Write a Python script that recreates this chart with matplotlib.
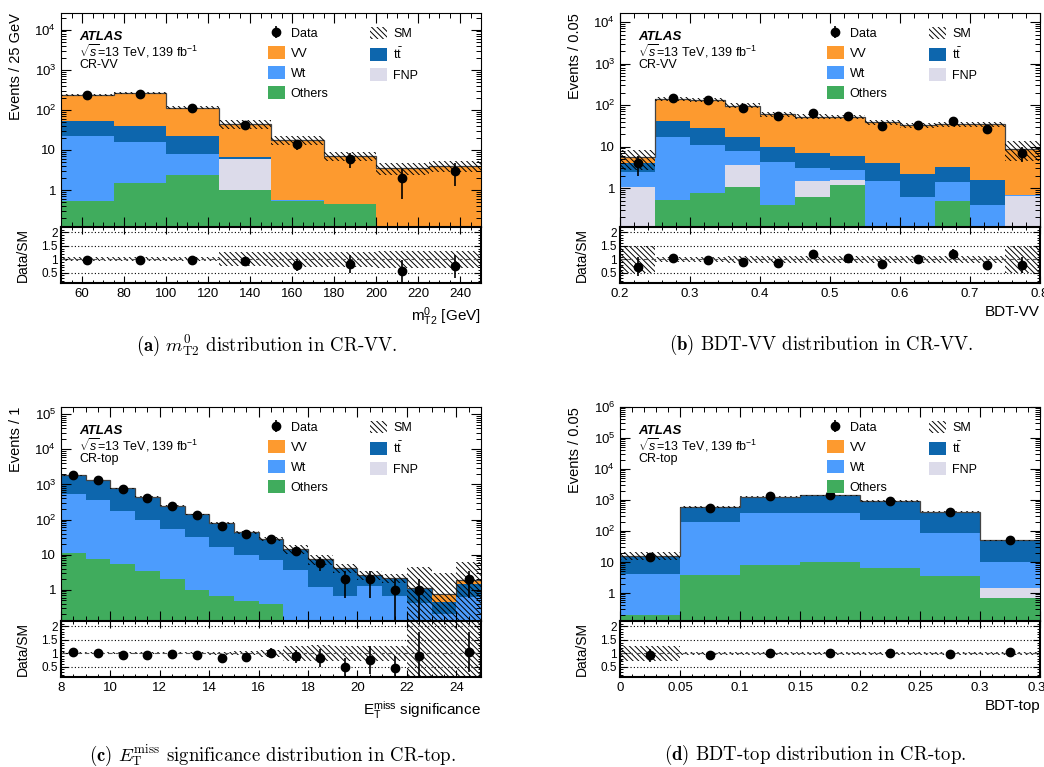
import numpy as np
import matplotlib.pyplot as plt
from matplotlib.ticker import MultipleLocator, FixedLocator, FuncFormatter, LogLocator, NullFormatter
from matplotlib.patches import Patch

plt.rcParams['font.family'] = ['Liberation Sans', 'DejaVu Sans']
plt.rcParams['mathtext.fontset'] = 'custom'
plt.rcParams['mathtext.rm'] = 'Liberation Sans'
plt.rcParams['mathtext.it'] = 'Liberation Sans:italic'
plt.rcParams['mathtext.bf'] = 'Liberation Sans:bold'
plt.rcParams['hatch.linewidth'] = 0.7

C_VV = '#fd9a2f'
C_TT = '#0d66ad'
C_WT = '#4c9cfd'
C_FNP = '#dcdbea'
C_OTH = '#40ac5d'
HATCH = '\\\\\\\\\\\\'

# ---- (a) mT2 in CR-VV ----
a_edges = [50, 75, 100, 125, 150, 175, 200, 225, 250]
a_others = [0.54, 1.5, 2.4, 1.0, 0.54, 0.45, 0, 0]
a_fnp = [0, 0, 0, 4.8, 0, 0, 0, 0]
a_wt = [21.5, 14, 5.5, 0.3, 0.02, 0, 0, 0]
a_tt = [32, 24, 14.5, 0.7, 0, 0, 0, 0]
a_vv = [183, 221, 92, 38.2, 17.2, 6.75, 3.5, 4.06]
a_data = [235, 250, 110, 43, 14, 6, 2, 3]
a_unc = [0.07, 0.07, 0.08, 0.26, 0.27, 0.27, 0.32, 0.32]

# ---- (b) BDT-VV in CR-VV ----
b_edges = [0.2, 0.25, 0.3, 0.35, 0.4, 0.45, 0.5, 0.55, 0.6, 0.65, 0.7, 0.75, 0.8]
b_others = [0, 0.52, 0.74, 1.06, 0.38, 0.6, 1.18, 0, 0, 0.5, 0, 0]
b_fnp = [1.05, 0, 0, 2.55, 0, 0.9, 0.4, 0, 0, 0, 0, 0.65]
b_wt = [1.35, 16.9, 10.1, 4.0, 3.8, 1.5, 1.07, 1.5, 0.62, 0.92, 0.4, 0.02]
b_tt = [1.5, 24.6, 17.2, 9.8, 5.8, 3.8, 3.35, 2.5, 1.55, 1.73, 1.18, 0]
b_vv = [1.6, 99, 107, 79.6, 50.5, 46, 46, 34, 30.8, 30.8, 32.4, 8.2]
b_data = [4, 150, 132, 87, 53, 63, 55, 31, 33, 41, 27, 7]
b_unc = [0.5, 0.1, 0.1, 0.13, 0.13, 0.13, 0.13, 0.13, 0.13, 0.13, 0.13, 0.5]

# ---- (c) MET significance in CR-top ----
c_edges = [8, 9, 10, 11, 12, 13, 14, 15, 16, 17, 18, 19, 20, 21, 22, 23, 24, 25]
c_others = [11, 7.5, 5.4, 3.4, 2.0, 1.0, 0.69, 0.49, 0.39, 0, 0, 0, 0, 0, 0, 0, 0]
c_fnp = [0] * 17
c_wt = [514, 347, 176, 91, 53, 30, 16.3, 9.3, 6.6, 3.6, 1.17, 0.66, 1.33, 0.66, 0.41, 0.2, 0.62]
c_tt = [1256, 968, 595, 352, 186, 106.5, 61.2, 32.7, 20.3, 10.6, 5.93, 3.44, 1.27, 1.39, 0.63, 0.24, 0.83]
c_vv = [20, 15, 9, 6, 4, 2.5, 1.5, 1, 0.6, 0.4, 0.3, 0.1, 0.1, 0.15, 0.08, 0.33, 0.45]
c_data = [1860, 1330, 750, 422, 243, 133, 66, 38, 28, 13, 6, 2, 2, 1, 1, 0, 2]
c_unc = [0.03, 0.03, 0.03, 0.03, 0.03, 0.03, 0.05, 0.08, 0.12, 0.28, 0.3, 0.28, 0.28, 0.28, 3.0, 3.0, 2.3]

# ---- (d) BDT-top in CR-top ----
d_edges = [0, 0.05, 0.1, 0.15, 0.2, 0.25, 0.3, 0.35]
d_others = [0.19, 3.7, 8, 10, 6.2, 3.5, 0.7]
d_fnp = [0, 0, 0, 0, 0, 0, 0.8]
d_wt = [3.9, 188, 359, 357, 228, 82.5, 8.3]
d_tt = [10, 406, 920, 1050, 693, 333, 39.5]
d_vv = [2, 3, 3, 3, 3, 1, 0.2]
d_data = [15, 560, 1320, 1450, 930, 407, 51]
d_unc = [0.28, 0.05, 0.05, 0.05, 0.05, 0.05, 0.05]

W, H = 1044, 767
fig = plt.figure(figsize=(W / 100, H / 100), dpi=100)


def log_fmt(v, pos):
    if v == 1:
        return '1'
    if v == 10:
        return '10'
    return r'$10^{%d}$' % int(round(np.log10(v)))


def style_axis(ax, major=5, minor=2.5, size=9.5):
    ax.tick_params(which='both', direction='in', top=True, right=True, labelsize=size)
    ax.tick_params(which='major', length=major, width=0.8)
    ax.tick_params(which='minor', length=minor, width=0.7)


def draw_panel(x0, y0, edges, comps, data, unc, ylim, ylabel, xlabel, region,
               xmaj, xmin):
    # pixel box of main + ratio pad
    left, right = x0, x0 + 420
    top_main, bot_main, bot_ratio = y0, y0 + 214, y0 + 270
    axm = fig.add_axes([left / W, 1 - bot_main / H, (right - left) / W, (bot_main - top_main) / H])
    axr = fig.add_axes([left / W, 1 - bot_ratio / H, (right - left) / W, (bot_ratio - bot_main) / H],
                       sharex=axm)
    edges = np.array(edges, dtype=float)
    centers = 0.5 * (edges[1:] + edges[:-1])
    width = edges[1:] - edges[:-1]
    cum = np.zeros(len(centers))
    for vals, col in comps:
        vals = np.array(vals, dtype=float)
        axm.stairs(cum + vals, edges, baseline=cum.copy(), fill=True, color=col, lw=0)
        cum = cum + vals
    total = cum
    axm.stairs(total, edges, baseline=None, color='#444444', lw=0.9)
    unc = np.array(unc)
    axm.bar(centers, 2 * unc * total, bottom=total * (1 - unc), width=width, fill=False,
            hatch=HATCH, edgecolor='black', linewidth=0)
    data = np.array(data, dtype=float)
    ok = data > 0
    err = np.sqrt(data)
    dh = axm.errorbar(centers[ok], data[ok], yerr=err[ok], fmt='o', color='black', ms=6,
                      elinewidth=1.2, capsize=0)
    axm.set_yscale('log')
    axm.set_ylim(*ylim)
    axm.set_xlim(edges[0], edges[-1])
    axm.yaxis.set_major_locator(LogLocator(base=10, numticks=20))
    axm.yaxis.set_minor_locator(LogLocator(base=10, subs=np.arange(2, 10), numticks=20))
    axm.yaxis.set_major_formatter(FuncFormatter(log_fmt))
    axm.yaxis.set_minor_formatter(NullFormatter())
    style_axis(axm, 7, 3.5)
    axm.tick_params(labelbottom=False)
    axm.set_ylabel(ylabel, loc='top', fontsize=10.5)

    # text block
    axm.text(0.043, 0.888, 'ATLAS', transform=axm.transAxes, fontsize=9.5, fontweight='bold',
             style='italic', va='center')
    axm.text(0.043, 0.822, r'$\sqrt{s}$=13 TeV, 139 fb$^{-1}$', transform=axm.transAxes,
             fontsize=9, va='center')
    axm.text(0.043, 0.755, region, transform=axm.transAxes, fontsize=9, va='center')

    handles = [dh,
               Patch(facecolor=C_VV), Patch(facecolor=C_WT), Patch(facecolor=C_OTH),
               Patch(facecolor='none', edgecolor='black', hatch=HATCH, linewidth=0),
               Patch(facecolor=C_TT), Patch(facecolor=C_FNP)]
    labels = ['Data', 'VV', 'Wt', 'Others', 'SM', r't$\bar{\mathrm{t}}$', 'FNP']
    axm.legend(handles, labels, ncol=2, loc='upper left', bbox_to_anchor=(0.48, 0.96),
               frameon=False, fontsize=9, handlelength=1.4, handleheight=1.15,
               labelspacing=0.52, columnspacing=3.3, handletextpad=0.45, borderaxespad=0)

    # ratio pad
    axr.bar(centers, 2 * unc, bottom=1 - unc, width=width, fill=False,
            hatch=HATCH, edgecolor='black', linewidth=0)
    for yv in (0.5, 1.5, 2.0):
        axr.axhline(yv, color='black', ls=(0, (1, 2)), lw=0.8)
    axr.axhline(1.0, color='#555555', ls=(0, (4, 3)), lw=0.8)
    ratio = data / total
    rerr = err / total
    axr.errorbar(centers[ok], ratio[ok], yerr=rerr[ok], fmt='o', color='black', ms=6,
                 elinewidth=1.2, capsize=0)
    axr.set_ylim(0.12, 2.2)
    axr.yaxis.set_major_locator(FixedLocator([0.5, 1, 1.5, 2]))
    axr.yaxis.set_major_formatter(FuncFormatter(lambda v, p: ('%g' % v)))
    axr.yaxis.set_minor_locator(MultipleLocator(0.1))
    axr.xaxis.set_major_locator(MultipleLocator(xmaj))
    axr.xaxis.set_minor_locator(MultipleLocator(xmin))
    axr.xaxis.set_major_formatter(FuncFormatter(lambda v, p: ('%g' % round(v, 3))))
    style_axis(axr, 5, 2.5)
    axr.tick_params(axis='y', labelsize=8.5, pad=2.5)
    for sp in axr.spines.values():
        sp.set_linewidth(1.5)
    axr.set_ylabel('Data/SM', fontsize=10)
    axr.set_xlabel(xlabel, loc='right', fontsize=11)
    axr.yaxis.set_label_coords(-0.075, 0.5)
    axm.yaxis.set_label_coords(-0.09, 1.0)
    return axm, axr


def comps_of(o, f, w, t, v):
    return [(o, C_OTH), (f, C_FNP), (w, C_WT), (t, C_TT), (v, C_VV)]


draw_panel(61, 13, a_edges, comps_of(a_others, a_fnp, a_wt, a_tt, a_vv), a_data, a_unc,
           (0.12, 2.6e4), 'Events / 25 GeV', r'm$^{0}_{\mathrm{T2}}$ [GeV]', 'CR-VV', 20, 5)
draw_panel(620, 13, b_edges, comps_of(b_others, b_fnp, b_wt, b_tt, b_vv), b_data, b_unc,
           (0.115, 1.65e4), 'Events / 0.05', 'BDT-VV', 'CR-VV', 0.1, 0.02)
draw_panel(61, 407, c_edges, comps_of(c_others, c_fnp, c_wt, c_tt, c_vv), c_data, c_unc,
           (0.13, 1.6e5), 'Events / 1', r'E$_{\mathrm{T}}^{\mathrm{miss}}$ significance',
           'CR-top', 2, 0.5)
draw_panel(620, 407, d_edges, comps_of(d_others, d_fnp, d_wt, d_tt, d_vv), d_data, d_unc,
           (0.125, 1e6), 'Events / 0.05', 'BDT-top', 'CR-top', 0.05, 0.01)

cap_kw = dict(fontsize=13.5, family='cmr10', math_fontfamily='cm', ha='center', va='center')
fig.text(267 / W, 1 - 345 / H, r'$\mathbf{(a)}$ $m^{0}_{\mathrm{T2}}$ distribution in CR-VV.', **cap_kw)
fig.text(821 / W, 1 - 345 / H, r'$\mathbf{(b)}$ BDT-VV distribution in CR-VV.', **cap_kw)
fig.text(272 / W, 1 - 755 / H,
         r'$\mathbf{(c)}$ $E_{\mathrm{T}}^{\mathrm{miss}}$ significance distribution in CR-top.', **cap_kw)
fig.text(815 / W, 1 - 755 / H, r'$\mathbf{(d)}$ BDT-top distribution in CR-top.', **cap_kw)

fig.savefig('out.png', dpi=100)
